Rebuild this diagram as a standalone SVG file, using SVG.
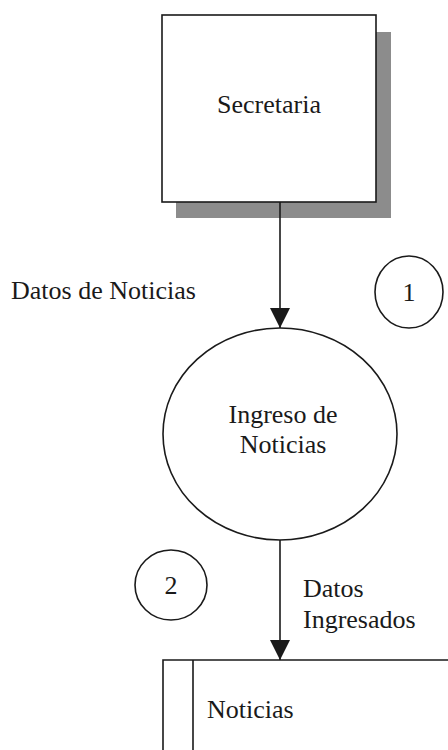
<svg xmlns="http://www.w3.org/2000/svg" width="448" height="750" viewBox="0 0 448 750">
<defs>
<style>
.t{font-family:"Liberation Serif","Times New Roman",serif;font-size:26px;fill:#1a1a1a}
.s{fill:none;stroke:#1a1a1a;stroke-width:1.6}
.w{fill:#fff;stroke:#1a1a1a;stroke-width:1.6}
</style>
<marker id="ah" markerWidth="20" markerHeight="20" refX="20" refY="10" orient="auto" markerUnits="userSpaceOnUse">
<path d="M0,0 L20,10 L0,20 Z" fill="#1a1a1a"/>
</marker>
</defs>
<rect width="448" height="750" fill="#fff"/>
<g id="secretaria">
<rect x="176" y="32" width="215" height="186" fill="#8c8c8c"/>
<rect class="w" x="162" y="15" width="214" height="187"/>
<text class="t" x="269" y="113" text-anchor="middle">Secretaria</text>
</g>
<g id="ingreso">
<ellipse class="w" cx="280" cy="434" rx="117" ry="106"/>
<text class="t" x="283" y="423" text-anchor="middle">Ingreso de</text>
<text class="t" x="283" y="453" text-anchor="middle">Noticias</text>
</g>
<g id="num1">
<ellipse class="s" cx="409" cy="292" rx="34" ry="36"/>
<text class="t" x="409" y="301" text-anchor="middle">1</text>
</g>
<g id="num2">
<ellipse class="s" cx="171" cy="585" rx="36" ry="35"/>
<text class="t" x="171" y="594" text-anchor="middle">2</text>
</g>
<g id="noticias">
<path class="s" d="M448,660 H163 V750 M193,660 V750"/>
<text class="t" x="207" y="718">Noticias</text>
</g>
<g id="connectors">
<line class="s" x1="280" y1="202" x2="280" y2="328" marker-end="url(#ah)"/>
<line class="s" x1="280" y1="540" x2="280" y2="660" marker-end="url(#ah)"/>
<text class="t" x="11" y="299">Datos de Noticias</text>
<text class="t" x="303" y="597">Datos</text>
<text class="t" x="303" y="628">Ingresados</text>
</g>
</svg>
